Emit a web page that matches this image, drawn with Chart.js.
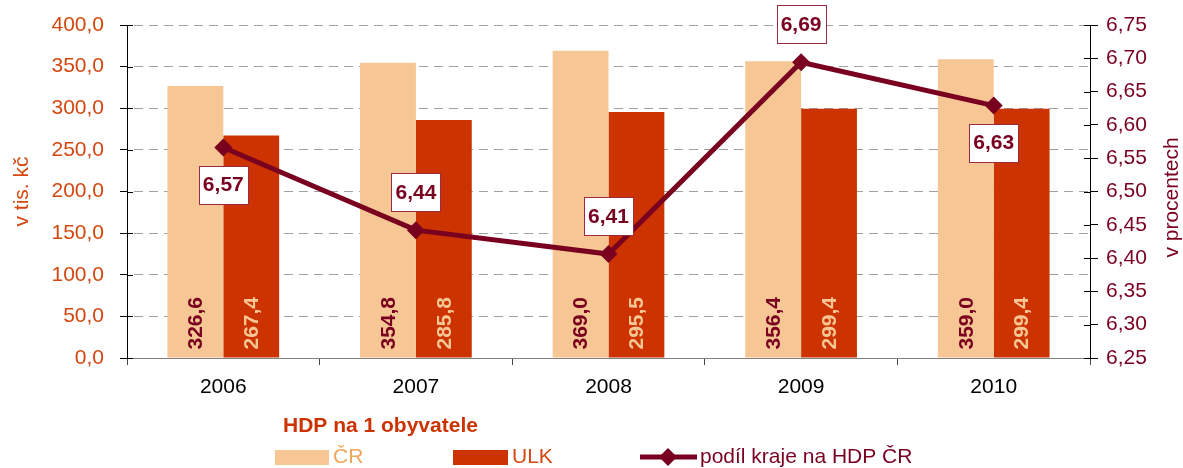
<!DOCTYPE html>
<html><head><meta charset="utf-8">
<script src="https://cdn.jsdelivr.net/npm/chart.js@4.4.1/dist/chart.umd.min.js"></script>
<style>html,body{margin:0;padding:0;background:#fff;overflow:hidden}#wrap{width:1183px;height:468px}</style>
</head><body><div id="wrap"><canvas id="c" width="1183" height="468"></canvas></div>
<script>
// ---- data ----
const years = ['2006', '2007', '2008', '2009', '2010'];
const hdpCR = [326.6, 354.8, 369.0, 356.4, 359.0];
const hdpULK = [267.4, 285.8, 295.5, 299.4, 299.4];
const podilKraje = [6.566, 6.442, 6.406, 6.694, 6.629];
const seriesNames = ['ČR', 'ULK', 'podíl kraje na HDP ČR'];
const legendTitle = 'HDP na 1 obyvatele';
const leftAxisTitle = 'v tis. kč';
const rightAxisTitle = 'v procentech';
// label placement for line values (style)
const lineLabelSide = ['below', 'above', 'above', 'above', 'below'];

// ---- styles ----
const FONT = '"Liberation Sans", Arial, Helvetica, sans-serif';
const LIGHT = '#f6c694';
const DARK = '#cc3300';
const MAROON = '#7a0020';
const LEFTCOL = '#d4470f';
const fmt = (v, d) => v.toFixed(d).replace('.', ',');

const overlay = {
  id: 'overlay',
  afterDraw(chart) {
    const ctx = chart.ctx;
    const area = chart.chartArea;
    // inner halves of crossing tick marks
    ctx.save();
    ctx.strokeStyle = '#000';
    ctx.lineWidth = 1;
    ['y', 'y1'].forEach(id => {
      const s = chart.scales[id];
      const ax = id === 'y' ? area.left : area.right;
      const dir = id === 'y' ? 1 : -1;
      s.ticks.forEach(t => {
        const py = Math.round(s.getPixelForValue(t.value)) + 0.5;
        ctx.beginPath();
        ctx.moveTo(ax, py);
        ctx.lineTo(ax + dir * 6, py);
        ctx.stroke();
      });
    });
    ctx.restore();
    // bar value labels
    [0, 1].forEach(di => {
      const meta = chart.getDatasetMeta(di);
      meta.data.forEach((el, i) => {
        const v = chart.data.datasets[di].data[i];
        ctx.save();
        ctx.translate(el.x, el.base - 8);
        ctx.rotate(-Math.PI / 2);
        ctx.font = 'bold 21px ' + FONT;
        ctx.fillStyle = di === 0 ? MAROON : LIGHT;
        ctx.textAlign = 'left';
        ctx.textBaseline = 'middle';
        ctx.fillText(fmt(v, 1), 0, 1);
        ctx.restore();
      });
    });
    // line value labels
    const lm = chart.getDatasetMeta(2);
    lm.data.forEach((el, i) => {
      const txt = fmt(chart.data.datasets[2].data[i], 2);
      ctx.save();
      ctx.font = 'bold 21px ' + FONT;
      const w = ctx.measureText(txt).width + 8;
      const h = 38;
      const cy = el.y + (lineLabelSide[i] === 'below' ? 37 : -38);
      const cx = el.x;
      ctx.fillStyle = '#fff';
      ctx.fillRect(Math.round(cx - w / 2) + 0.5, Math.round(cy - h / 2) + 0.5, Math.round(w), h);
      ctx.strokeStyle = '#9a2a40';
      ctx.lineWidth = 1;
      ctx.strokeRect(Math.round(cx - w / 2) + 0.5, Math.round(cy - h / 2) + 0.5, Math.round(w), h);
      ctx.fillStyle = MAROON;
      ctx.textAlign = 'center';
      ctx.textBaseline = 'middle';
      ctx.fillText(txt, cx, cy + 1);
      ctx.restore();
    });
    // axis titles
    ctx.save();
    ctx.font = '21px ' + FONT;
    ctx.textAlign = 'center';
    ctx.textBaseline = 'middle';
    ctx.fillStyle = LEFTCOL;
    ctx.translate(22, (area.top + area.bottom) / 2);
    ctx.rotate(-Math.PI / 2);
    ctx.fillText(leftAxisTitle, 0, 0);
    ctx.restore();
    ctx.save();
    ctx.font = '21px ' + FONT;
    ctx.textAlign = 'center';
    ctx.textBaseline = 'middle';
    ctx.fillStyle = MAROON;
    ctx.translate(1172, (area.top + area.bottom) / 2 + 6);
    ctx.rotate(-Math.PI / 2);
    ctx.fillText(rightAxisTitle, 0, 0);
    ctx.restore();
    // legend
    ctx.save();
    ctx.font = 'bold 21px ' + FONT;
    ctx.fillStyle = DARK;
    ctx.textAlign = 'left';
    ctx.textBaseline = 'middle';
    ctx.fillText(legendTitle, 283, 426);
    const ly = 457;
    ctx.font = '21px ' + FONT;
    ctx.fillStyle = LIGHT;
    ctx.fillRect(275, ly - 7, 54, 15);
    ctx.fillStyle = '#f0a55a';
    ctx.fillText(seriesNames[0], 333, ly);
    ctx.fillStyle = DARK;
    ctx.fillRect(453, ly - 7, 55, 15);
    ctx.fillStyle = '#d44a12';
    ctx.fillText(seriesNames[1], 512, ly);
    ctx.strokeStyle = MAROON;
    ctx.lineWidth = 5;
    ctx.beginPath();
    ctx.moveTo(640, ly);
    ctx.lineTo(697, ly);
    ctx.stroke();
    ctx.fillStyle = MAROON;
    ctx.beginPath();
    ctx.moveTo(668, ly - 9);
    ctx.lineTo(677, ly);
    ctx.lineTo(668, ly + 9);
    ctx.lineTo(659, ly);
    ctx.closePath();
    ctx.fill();
    ctx.fillText(seriesNames[2], 700, ly);
    ctx.restore();
  }
};

new Chart(document.getElementById('c'), {
  data: {
    labels: years,
    datasets: [
      { type: 'bar', label: seriesNames[0], data: hdpCR, backgroundColor: LIGHT, yAxisID: 'y', order: 2,
        categoryPercentage: 0.58, barPercentage: 1.0 },
      { type: 'bar', label: seriesNames[1], data: hdpULK, backgroundColor: DARK, yAxisID: 'y', order: 2,
        categoryPercentage: 0.58, barPercentage: 1.0 },
      { type: 'line', label: seriesNames[2], data: podilKraje, yAxisID: 'y1', order: 0,
        borderColor: MAROON, borderWidth: 5, backgroundColor: MAROON, tension: 0,
        pointStyle: 'rectRot', pointRadius: 9, pointBorderWidth: 0, pointBackgroundColor: MAROON }
    ]
  },
  options: {
    responsive: false,
    devicePixelRatio: 1,
    animation: false,
    layout: { padding: { top: 25, left: 0, right: 0, bottom: 0 } },
    plugins: { legend: { display: false }, tooltip: { enabled: false } },
    scales: {
      x: {
        grid: { drawOnChartArea: false, drawTicks: true, tickLength: 7, color: '#444', tickColor: '#444', offset: true },
        border: { display: true, color: '#808080', width: 1 },
        ticks: { color: '#000', font: { family: FONT, size: 21 }, padding: 10, maxRotation: 0 },
        afterFit(s) { s.height = 110; s.paddingLeft = 0; s.paddingRight = 0; }
      },
      y: {
        position: 'left', min: 0, max: 400,
        ticks: { stepSize: 50, color: LEFTCOL, font: { family: FONT, size: 21 }, padding: 16,
          callback: v => fmt(v, 1) },
        grid: { color: '#a0a0a0', lineWidth: 1, tickLength: 7, tickColor: '#000', tickBorderDash: [] },
        border: { display: true, color: '#000', width: 1, dash: [9, 6], dashOffset: 9 },
        afterFit(s) { s.width = 127; s.paddingTop = 0; s.paddingBottom = 0; }
      },
      y1: {
        position: 'right', min: 6.25, max: 6.75,
        ticks: { stepSize: 0.05, color: MAROON, font: { family: FONT, size: 21 }, padding: 8,
          callback: v => fmt(v, 2) },
        grid: { drawOnChartArea: false, tickLength: 8, tickColor: '#000' },
        border: { display: true, color: '#000', width: 1 },
        afterFit(s) { s.width = 93; s.paddingTop = 0; s.paddingBottom = 0; }
      }
    }
  },
  plugins: [overlay]
});
</script>
</body></html>
